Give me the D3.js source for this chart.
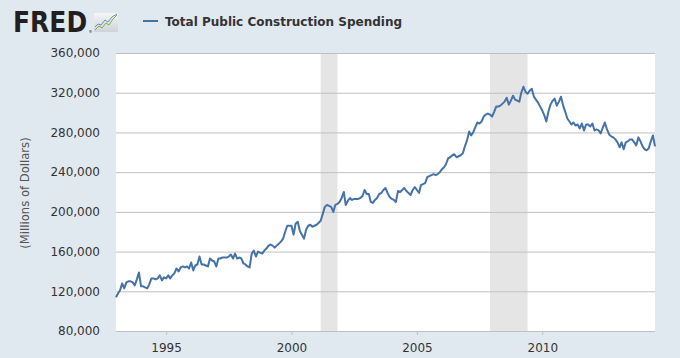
<!DOCTYPE html>
<html><head><meta charset="utf-8">
<script src="https://cdn.jsdelivr.net/npm/d3@7"></script>
<style>
html,body{margin:0;padding:0;background:#e1e9f0;}
svg{display:block;}
</style></head><body>
<svg id="chart" width="680" height="358"></svg>
<script>
// ---- data (millions of dollars, thousands shown; monthly from Jan 1993) ----
const seriesName = "Total Public Construction Spending";
const startYear = 1993;
const v1993 = [114, 118, 121, 128, 123, 129, 130, 130, 129, 126, 132, 139];
const v1994 = [125, 125, 124, 123, 127, 133, 133, 132, 133, 136, 131, 134];
const v1995 = [133, 136, 133, 136, 138, 143, 140, 144, 145, 144, 145, 143];
const v1996 = [149, 141, 146, 147, 155, 147, 147, 146, 145, 153, 151, 150];
const v1997 = [145, 153, 153, 154, 154, 154, 155, 157, 153, 158, 153, 154];
const v1998 = [153, 148, 147, 145, 144, 158, 161, 155, 160, 159, 158, 161];
const v1999 = [163, 166, 167, 166, 164, 166, 168, 170, 173, 180, 186, 186];
const v2000 = [186, 177, 188, 190, 181, 177, 173, 182, 186, 187, 185, 186];
const v2001 = [187, 189, 191, 198, 205, 207, 206, 205, 200, 207, 208, 210];
const v2002 = [214, 220, 207, 211, 214, 212, 213, 213, 213, 214, 216, 222];
const v2003 = [218, 218, 210, 209, 212, 214, 218, 219, 222, 224, 219, 215];
const v2004 = [213, 212, 210, 221, 220, 222, 224, 221, 219, 217, 222, 225];
const v2005 = [222, 219, 227, 228, 229, 235, 236, 237, 238, 237, 238, 240];
const v2006 = [243, 245, 248, 254, 255, 257, 258, 255, 256, 257, 259, 266];
const v2007 = [272, 281, 277, 280, 285, 290, 289, 291, 296, 298, 299, 298];
const v2008 = [296, 301, 306, 306, 307, 309, 311, 315, 308, 312, 317, 313];
const v2009 = [312, 311, 320, 326, 321, 319, 322, 324, 316, 313, 310, 306];
const v2010 = [302, 297, 291, 301, 308, 312, 314, 307, 311, 316, 307, 301];
const v2011 = [294, 291, 288, 290, 287, 288, 284, 289, 282, 288, 288, 286];
const v2012 = [289, 282, 283, 282, 279, 285, 290, 283, 278, 276, 275, 273];
const v2013 = [270, 265, 270, 263, 270, 271, 273, 273, 270, 267, 275, 271];
const v2014 = [266, 263, 262, 264, 271, 277, 266];
const recessions = [["2001-03-01", "2001-11-01"], ["2007-12-01", "2009-06-01"]];
const yTicks = [80000, 120000, 160000, 200000, 240000, 280000, 320000, 360000];
const xTickYears = [1995, 2000, 2005, 2010];
const yTitle = "(Millions of Dollars)";

const allYears = [v1993, v1994, v1995, v1996, v1997, v1998, v1999, v2000, v2001, v2002, v2003,
  v2004, v2005, v2006, v2007, v2008, v2009, v2010, v2011, v2012, v2013, v2014];
const data = [];
allYears.forEach((arr, yi) => arr.forEach((v, mi) => data.push({date: new Date(startYear + yi, mi, 1), value: v * 1000})));

// ---- layout ----
const svg = d3.select("#chart");
const L = 116, R = 655, T = 53, B = 331;
const x = d3.scaleTime().domain([new Date(1993, 0, 1), data[data.length - 1].date]).range([L, R]);
const y = d3.scaleLinear().domain([80000, 360000]).range([B, T]);

svg.append("rect").attr("width", 680).attr("height", 358).attr("fill", "#e1e9f0");
svg.append("rect").attr("x", L).attr("y", T).attr("width", R - L).attr("height", B - T).attr("fill", "#ffffff");

// recessions
const pd = d3.timeParse("%Y-%m-%d");
svg.append("g").selectAll("rect").data(recessions).join("rect")
  .attr("x", d => x(pd(d[0]))).attr("width", d => x(pd(d[1])) - x(pd(d[0])))
  .attr("y", T).attr("height", B - T).attr("fill", "#e5e5e5");

// gridlines + y labels
const yAxis = d3.axisLeft(y).tickValues(yTicks).tickSize(-(R - L)).tickFormat(d3.format(","));
const gy = svg.append("g").attr("transform", `translate(${L},0)`).call(yAxis);
gy.select(".domain").remove();
gy.selectAll(".tick line").attr("stroke", "#c0c0c0").attr("stroke-width", 1);
gy.selectAll(".tick text").attr("x", -16).attr("fill", "#333333")
  .style("font-family", "'DejaVu Sans', Verdana, sans-serif").style("font-size", "12px");

// x axis
const xAxis = d3.axisBottom(x).tickValues(xTickYears.map(yr => new Date(yr, 0, 1)))
  .tickFormat(d3.timeFormat("%Y")).tickSize(4).tickPadding(8);
const gx = svg.append("g").attr("transform", `translate(0,${B})`).call(xAxis);
gx.select(".domain").remove();
gx.selectAll(".tick line").attr("stroke", "#c0c0c0");
gx.selectAll(".tick text").attr("fill", "#333333")
  .style("font-family", "'DejaVu Sans', Verdana, sans-serif").style("font-size", "12px");

// line
const line = d3.line().x(d => x(d.date)).y(d => y(d.value));
svg.append("path").datum(data).attr("d", line).attr("fill", "none")
  .attr("stroke", "#4572a7").attr("stroke-width", 2).attr("stroke-linejoin", "round");

// y title
svg.append("text").attr("transform", `translate(29,${(T + B) / 2 + 1}) rotate(-90)`)
  .attr("text-anchor", "middle").attr("fill", "#555555")
  .style("font-family", "'DejaVu Sans', Verdana, sans-serif").style("font-size", "11.6px")
  .text(yTitle);

// header: FRED logo
const logo = svg.append("g");
logo.append("text").attr("transform", "translate(13,32) scale(1,1.1)").attr("fill", "#231f20")
  .style("font-family", "'DejaVu Sans', Arial, sans-serif").style("font-weight", "900")
  .style("font-size", "25px").text("FRED");
logo.append("text").attr("x", 88.5).attr("y", 33).attr("fill", "#231f20")
  .style("font-family", "'DejaVu Sans', sans-serif").style("font-size", "4px").text("®");
const grad = svg.append("defs").append("linearGradient").attr("id", "ig").attr("x1", 0).attr("y1", 0).attr("x2", 0).attr("y2", 1);
grad.append("stop").attr("offset", "0%").attr("stop-color", "#f4f6f7");
grad.append("stop").attr("offset", "100%").attr("stop-color", "#cdd3d7");
logo.append("rect").attr("x", 94).attr("y", 13).attr("width", 24).attr("height", 19).attr("fill", "url(#ig)");
logo.append("polyline").attr("points", "95,30 99,26 102,28 106,23 109,25 113,19 117,15")
  .attr("fill", "none").attr("stroke", "#7fb04a").attr("stroke-width", 1);
logo.append("polyline").attr("points", "95,27 98,24 101,25 105,20 108,22 112,17 117,14")
  .attr("fill", "none").attr("stroke", "#6d8db5").attr("stroke-width", 1);

// legend
svg.append("line").attr("x1", 143).attr("x2", 158).attr("y1", 21).attr("y2", 21)
  .attr("stroke", "#4572a7").attr("stroke-width", 2);
svg.append("text").attr("x", 165).attr("y", 25.5).attr("fill", "#333333")
  .style("font-family", "'DejaVu Sans', Verdana, sans-serif").style("font-weight", "bold")
  .style("font-size", "12px").text(seriesName);
</script>
</body></html>
